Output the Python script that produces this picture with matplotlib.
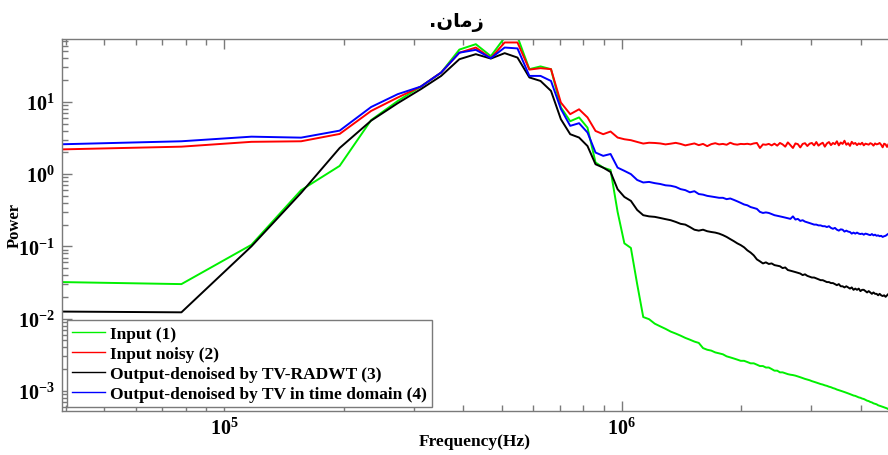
import numpy as np
import matplotlib
matplotlib.use("Agg")
import matplotlib.pyplot as plt
from matplotlib.ticker import LogLocator, NullFormatter

plt.rcParams['font.family'] = ['Liberation Serif', 'DejaVu Sans']
plt.rcParams['font.weight'] = 'bold'
plt.rcParams['mathtext.fontset'] = 'custom'
plt.rcParams['mathtext.rm'] = 'Liberation Serif:bold'
plt.rcParams['mathtext.it'] = 'Liberation Serif:bold'
plt.rcParams['mathtext.bf'] = 'Liberation Serif:bold'
plt.rcParams['axes.unicode_minus'] = False

# spectral bins: fs = 10 MHz, 256-point FFT, bins 1..120
bin_width = 39062.5
bins = np.arange(1, 121)

# power spectrum of the clean input
input_clean = [
    0.032, 0.030, 0.105, 0.60, 1.30, 5.6, 10.3, 16.3, 25.5, 53,
    63, 43, 78, 80, 28.4, 31, 28.4, 8.4, 5.4, 6.1,
    4.4, 1.45, 1.23, 1.14, 0.30, 0.11, 0.095, 0.030, 0.0105, 0.0098,
    0.0085, 0.0078, 0.0072, 0.0066, 0.0062, 0.0058, 0.0054, 0.0051, 0.0048, 0.0046,
    0.0039, 0.0037, 0.0036, 0.0034, 0.0033, 0.0032, 0.0030, 0.0029, 0.0028, 0.0027,
    0.0026, 0.0026, 0.0025, 0.0024, 0.0024, 0.0023, 0.0022, 0.0022, 0.0021, 0.0021,
    0.0020, 0.0019, 0.0019, 0.0018, 0.0018, 0.00175, 0.0017, 0.00167, 0.00165, 0.00162,
    0.00158, 0.00154, 0.0015, 0.00146, 0.00143, 0.0014, 0.00136, 0.00133, 0.0013, 0.00127,
    0.00124, 0.00122, 0.00119, 0.00117, 0.00114, 0.00112, 0.00109, 0.00107, 0.00104, 0.00102,
    0.0010, 0.00098, 0.00096, 0.00094, 0.00092, 0.0009, 0.00088, 0.00086, 0.00085, 0.00083,
    0.00081, 0.0008, 0.00078, 0.00077, 0.00075, 0.00073, 0.00072, 0.0007, 0.00069, 0.00067,
    0.00066, 0.00065, 0.00063, 0.00062, 0.00061, 0.0006, 0.00059, 0.00058, 0.00057, 0.000555,
]

# power spectrum of the noisy input
input_noisy = [
    2.2, 2.4, 2.8, 2.85, 3.6, 7.5, 11.5, 16.3, 25.5, 48,
    56.6, 40.3, 66.5, 66.5, 28, 29.3, 28.4, 9.8, 6.76, 7.9,
    6.1, 3.96, 3.57, 3.89, 3.21, 3.04, 2.95, 2.79, 2.65, 2.72,
    2.70, 2.66, 2.58, 2.64, 2.71, 2.62, 2.50, 2.58, 2.66, 2.52,
    2.62, 2.44, 2.60, 2.68, 2.58, 2.62, 2.55, 2.72, 2.60, 2.56,
    2.62, 2.60, 2.63, 2.58, 2.66, 2.70, 2.30, 2.58, 2.55, 2.62,
    2.50, 2.64, 2.48, 2.70, 2.58, 2.40, 2.75, 2.52, 2.30, 2.66,
    2.60, 2.34, 2.62, 2.68, 2.45, 2.64, 2.70, 2.50, 2.78, 2.48,
    2.62, 2.72, 2.40, 2.66, 2.78, 2.52, 2.70, 2.60, 2.85, 2.50,
    2.74, 2.62, 2.90, 2.55, 2.68, 2.46, 2.80, 2.62, 2.70, 2.52,
    2.66, 2.58, 2.72, 2.50, 2.64, 2.60, 2.56, 2.68, 2.62, 2.48,
    2.66, 2.58, 2.62, 2.70, 2.55, 2.35, 2.64, 2.58, 2.38, 2.60,
]

# output after TV-RADWT denoising
output_radwt = [
    0.0125, 0.0122, 0.10, 0.55, 2.3, 5.5, 9.6, 15, 22.9, 39,
    45.8, 39.8, 47.3, 41.1, 21.8, 19.5, 14.2, 5.76, 3.57, 3.21,
    2.45, 1.37, 1.23, 1.07, 0.618, 0.483, 0.426, 0.319, 0.27, 0.26,
    0.256, 0.247, 0.238, 0.23, 0.218, 0.205, 0.20, 0.185, 0.17, 0.165,
    0.17, 0.162, 0.158, 0.155, 0.15, 0.143, 0.135, 0.126, 0.118, 0.11,
    0.104, 0.097, 0.088, 0.082, 0.075, 0.066, 0.062, 0.058, 0.060, 0.057,
    0.058, 0.055, 0.054, 0.053, 0.050, 0.051, 0.047, 0.046, 0.045, 0.044,
    0.043, 0.042, 0.040, 0.041, 0.039, 0.038, 0.037, 0.037, 0.036, 0.035,
    0.034, 0.034, 0.033, 0.032, 0.032, 0.031, 0.031, 0.030, 0.029, 0.030,
    0.028, 0.028, 0.027, 0.028, 0.027, 0.026, 0.027, 0.025, 0.026, 0.025,
    0.026, 0.024, 0.025, 0.025, 0.024, 0.023, 0.024, 0.023, 0.022, 0.023,
    0.022, 0.022, 0.021, 0.022, 0.021, 0.0205, 0.021, 0.020, 0.021, 0.022,
]

# output after TV denoising in the time domain
output_tv = [
    2.59, 2.85, 3.3, 3.2, 4.0, 8.5, 12.8, 16.3, 25.5, 48,
    52.6, 40.3, 56.6, 55, 22.9, 22.9, 19.5, 8.0, 4.66, 5.07,
    3.77, 1.99, 1.79, 1.90, 1.23, 1.11, 1.0, 0.83, 0.766, 0.78,
    0.75, 0.73, 0.70, 0.69, 0.665, 0.62, 0.60, 0.56, 0.58, 0.53,
    0.52, 0.50, 0.49, 0.48, 0.47, 0.47, 0.45, 0.46, 0.44, 0.42,
    0.40, 0.38, 0.37, 0.35, 0.34, 0.33, 0.30, 0.29, 0.295, 0.29,
    0.28, 0.27, 0.265, 0.26, 0.255, 0.25, 0.245, 0.24, 0.26, 0.235,
    0.24, 0.225, 0.23, 0.22, 0.215, 0.21, 0.205, 0.20, 0.20, 0.195,
    0.195, 0.19, 0.19, 0.185, 0.19, 0.18, 0.175, 0.18, 0.17, 0.165,
    0.172, 0.17, 0.16, 0.165, 0.16, 0.158, 0.15, 0.155, 0.15, 0.155,
    0.15, 0.148, 0.15, 0.145, 0.15, 0.148, 0.145, 0.143, 0.148, 0.142,
    0.145, 0.14, 0.142, 0.138, 0.14, 0.135, 0.138, 0.14, 0.145, 0.15,
]

series_labels = [
    "Input (1)",
    "Input noisy (2)",
    "Output-denoised by TV-RADWT (3)",
    "Output-denoised by TV in time domain (4)",
]
series_colors = ["#00f000", "#ff0000", "#000000", "#0000ff"]

# title "زمان." written in presentation forms, left-to-right visual order
title_text = ".\uFEE5\uFE8E\uFEE3\uFEAF"

freq = bins * bin_width

W, H = 888, 456
fig = plt.figure(figsize=(W / 100, H / 100), dpi=100)
ax_w = 888.5 - 61.7
ax = fig.add_axes([61.7 / W, 1 - 411.7 / H, ax_w / W, (411.7 - 39.7) / H])

for vals, lab, col in zip([input_clean, input_noisy, output_radwt, output_tv],
                          series_labels, series_colors):
    ax.plot(freq, vals, color=col, lw=1.4, label=lab)

ax.set_xscale('log')
ax.set_yscale('log')
ax.set_xlim(freq[0], freq[-1])
ax.set_ylim(5.3e-4, 75)

ax.xaxis.set_minor_locator(LogLocator(base=10, subs=np.arange(2, 10)))
ax.yaxis.set_minor_locator(LogLocator(base=10, subs=np.arange(2, 10)))
ax.xaxis.set_minor_formatter(NullFormatter())
ax.yaxis.set_minor_formatter(NullFormatter())

grey = "#7a7a7a"
for side in ['left', 'top', 'bottom']:
    ax.spines[side].set_color(grey)
    ax.spines[side].set_linewidth(1.0)
ax.spines['right'].set_visible(False)

ax.tick_params(which='both', direction='in', top=True, right=False,
               color=grey, width=1.0, labelsize=14.5, labelcolor='black')
ax.tick_params(which='major', length=7)
ax.tick_params(which='minor', length=4)
ax.tick_params(axis='x', pad=5)
ax.tick_params(axis='y', pad=5)

ax.set_xlabel("Frequency(Hz)", fontsize=12.5, fontweight='bold', labelpad=-4)
ax.set_ylabel("Power", fontsize=12, fontweight='bold')
ax.yaxis.set_label_coords(-(61.7 - 23) / ax_w, 0.5)

leg = ax.legend(loc='lower left', bbox_to_anchor=(0.0064, 0.01), borderaxespad=0,
                fancybox=False, framealpha=1, edgecolor=grey, fontsize=12.5,
                handlelength=1.9, handletextpad=0.25, labelspacing=0.22,
                borderpad=0.3)
leg.get_frame().set_linewidth(1.0)
for ln in leg.get_lines():
    ln.set_linewidth(1.0)

fig.text(456 / W, 1 - 22 / H, title_text, ha='center', va='center',
         fontsize=14, fontweight='bold', family=['DejaVu Sans'])

fig.savefig("out.png", dpi=100)
